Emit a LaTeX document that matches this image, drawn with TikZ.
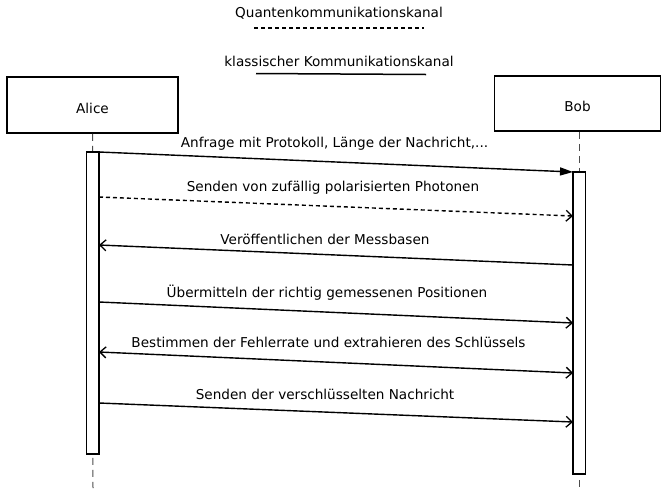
\documentclass[tikz,border=0pt]{standalone}
\usepackage{fontspec}
\setmainfont{DejaVu Sans}
\usetikzlibrary{arrows.meta}
\begin{document}
\begin{tikzpicture}[x=1pt,y=-1pt,
  actor/.style={draw,line width=1.5pt,inner sep=0pt,text height=16pt,text depth=0pt,font=\fontsize{13.6pt}{15pt}\selectfont},
  actbar/.style={draw,line width=1.5pt,fill=white,inner sep=0pt,minimum width=12.5pt},
  lifeline/.style={line width=1pt,dash pattern=on 7pt off 5pt,draw=black!70},
  msg/.style={line width=1.4pt},
  lbl/.style={font=\fontsize{13.6pt}{15pt}\selectfont,inner sep=0pt},
  filledhead/.style={-{Triangle[length=13pt,width=8pt]}},
  openhead/.style={-{Straight Barb[length=6pt,width=11pt,line width=1.3pt]}},
  bothhead/.style={{Straight Barb[length=6pt,width=11pt,line width=1.3pt]}-{Straight Barb[length=6pt,width=11pt,line width=1.3pt]}}
]
\useasboundingbox (0,0) rectangle (661,488);
% legend
\node[lbl] (qlabel) at (339,13) {Quantenkommunikationskanal};
\coordinate (q1) at (254,28); \coordinate (q2) at (424,28);
\draw[line width=1.4pt,dash pattern=on 4pt off 3pt] (q1) -- (q2);
\node[lbl] (clabel) at (339,61) {klassischer Kommunikationskanal};
\coordinate (c1) at (256,73.5); \coordinate (c2) at (426,74.5);
\draw[line width=1.5pt] (c1) -- (c2);
% actors
\node[actor,minimum width=171pt,minimum height=56pt] (alice) at (92.5,105) {Alice};
\node[actor,minimum width=166pt,minimum height=55pt] (bob) at (577.5,103.5) {Bob};
% lifelines
\coordinate (aend) at (93,488);
\coordinate (bend) at (579,488);
\draw[lifeline] (alice.south) -- (aend);
\draw[lifeline] (bob.south -| bend) -- (bend);
% activation bars
\node[actbar,minimum height=302pt] (abar) at (92.5,303) {};
\node[actbar,minimum height=302pt] (bbar) at (579,323) {};
% message end points
\coordinate (m1s) at (99,152);  \coordinate (m1e) at (573,172);
\coordinate (m2s) at (99,197);  \coordinate (m2e) at (573,216);
\coordinate (m3s) at (573,265); \coordinate (m3e) at (99,245);
\coordinate (m4s) at (99,302);  \coordinate (m4e) at (573,323);
\coordinate (m5s) at (99,352);  \coordinate (m5e) at (573,373);
\coordinate (m6s) at (99,403);  \coordinate (m6e) at (573,422);
% messages
\draw[msg,filledhead] (m1s) -- (m1e);
\draw[msg,openhead,dash pattern=on 4pt off 3pt] (m2s) -- (m2e);
\draw[msg,openhead] (m3s) -- (m3e);
\draw[msg,openhead] (m4s) -- (m4e);
\draw[msg,bothhead] (m5s) -- (m5e);
\draw[msg,openhead] (m6s) -- (m6e);
% labels
\node[lbl] (l1) at (334.5,144) {Anfrage mit Protokoll, Länge der Nachricht,...};
\node[lbl] (l2) at (333,188) {Senden von zufällig polarisierten Photonen};
\node[lbl] (l3) at (325,239) {Veröffentlichen der Messbasen};
\node[lbl] (l4) at (327,293) {Übermitteln der richtig gemessenen Positionen};
\node[lbl] (l5) at (328.5,342) {Bestimmen der Fehlerrate und extrahieren des Schlüssels};
\node[lbl] (l6) at (325,394) {Senden der verschlüsselten Nachricht};
\end{tikzpicture}
\end{document}
